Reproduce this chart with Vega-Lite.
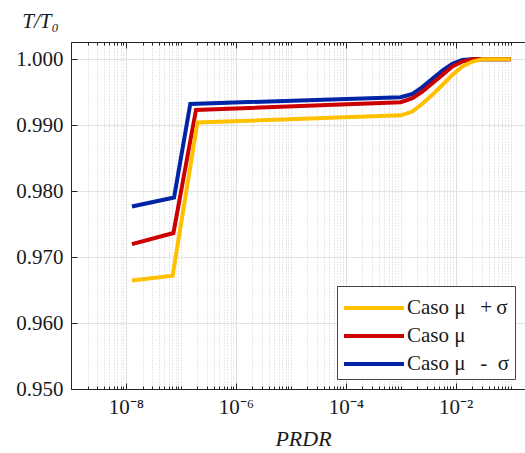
{
  "$schema": "https://vega.github.io/schema/vega-lite/v6.json",
  "width": 455,
  "height": 347,
  "autosize": {"type": "none"},
  "padding": {"left": 71, "top": 42, "right": 0, "bottom": 64},
  "background": "white",
  "config": {"view": {"stroke": null}, "font": "Liberation Serif, serif", "axis": {"labelFont": "Liberation Serif, serif", "titleFont": "Liberation Serif, serif"}, "legend": {"labelFont": "Liberation Serif, serif"}},
  "data": {"values": [
    {"x": 1.285e-8, "y": 0.97767, "s": "Caso μ - σ"},
    {"x": 7.5e-8, "y": 0.97903, "s": "Caso μ - σ"},
    {"x": 1.48e-7, "y": 0.99321, "s": "Caso μ - σ"},
    {"x": 1e-3, "y": 0.99424, "s": "Caso μ - σ"},
    {"x": 1.63e-3, "y": 0.99474, "s": "Caso μ - σ"},
    {"x": 2.47e-3, "y": 0.99576, "s": "Caso μ - σ"},
    {"x": 3.76e-3, "y": 0.99702, "s": "Caso μ - σ"},
    {"x": 5.72e-3, "y": 0.99827, "s": "Caso μ - σ"},
    {"x": 8.69e-3, "y": 0.99929, "s": "Caso μ - σ"},
    {"x": 1.32e-2, "y": 0.99989, "s": "Caso μ - σ"},
    {"x": 2.01e-2, "y": 1.0, "s": "Caso μ - σ"},
    {"x": 3.06e-2, "y": 1.0, "s": "Caso μ - σ"},
    {"x": 0.1, "y": 1.0, "s": "Caso μ - σ"},
    {"x": 1.285e-8, "y": 0.97197, "s": "Caso μ"},
    {"x": 7.3e-8, "y": 0.97364, "s": "Caso μ"},
    {"x": 1.88e-7, "y": 0.9923, "s": "Caso μ"},
    {"x": 1e-3, "y": 0.99348, "s": "Caso μ"},
    {"x": 1.63e-3, "y": 0.99409, "s": "Caso μ"},
    {"x": 2.47e-3, "y": 0.99509, "s": "Caso μ"},
    {"x": 3.76e-3, "y": 0.99636, "s": "Caso μ"},
    {"x": 5.72e-3, "y": 0.99762, "s": "Caso μ"},
    {"x": 8.69e-3, "y": 0.99888, "s": "Caso μ"},
    {"x": 1.32e-2, "y": 0.99964, "s": "Caso μ"},
    {"x": 2.01e-2, "y": 1.0, "s": "Caso μ"},
    {"x": 3.06e-2, "y": 1.0, "s": "Caso μ"},
    {"x": 0.1, "y": 1.0, "s": "Caso μ"},
    {"x": 1.285e-8, "y": 0.96645, "s": "Caso μ +σ"},
    {"x": 7.06e-8, "y": 0.96717, "s": "Caso μ +σ"},
    {"x": 2.0e-7, "y": 0.99039, "s": "Caso μ +σ"},
    {"x": 1e-3, "y": 0.99148, "s": "Caso μ +σ"},
    {"x": 1.63e-3, "y": 0.99206, "s": "Caso μ +σ"},
    {"x": 2.47e-3, "y": 0.99323, "s": "Caso μ +σ"},
    {"x": 3.76e-3, "y": 0.99459, "s": "Caso μ +σ"},
    {"x": 5.72e-3, "y": 0.99608, "s": "Caso μ +σ"},
    {"x": 8.69e-3, "y": 0.99762, "s": "Caso μ +σ"},
    {"x": 1.32e-2, "y": 0.99888, "s": "Caso μ +σ"},
    {"x": 2.01e-2, "y": 0.99964, "s": "Caso μ +σ"},
    {"x": 3.06e-2, "y": 1.0, "s": "Caso μ +σ"},
    {"x": 0.1, "y": 1.0, "s": "Caso μ +σ"}
  ]},
  "layer": [
    {
      "mark": {"type": "line", "opacity": 0},
      "encoding": {
        "x": {
          "field": "x", "type": "quantitative",
          "scale": {"type": "log", "domain": [1e-9, 0.19]},
          "axis": {
            "orient": "top",
            "values": [1e-9,2e-9,3e-9,4e-9,5e-9,6e-9,7e-9,8e-9,9e-9,1e-8,2e-8,3e-8,4e-8,5e-8,6e-8,7e-8,8e-8,9e-8,1e-7,2e-7,3e-7,4e-7,5e-7,6e-7,7e-7,8e-7,9e-7,1e-6,2e-6,3e-6,4e-6,5e-6,6e-6,7e-6,8e-6,9e-6,1e-5,2e-5,3e-5,4e-5,5e-5,6e-5,7e-5,8e-5,9e-5,1e-4,2e-4,3e-4,4e-4,5e-4,6e-4,7e-4,8e-4,9e-4,1e-3,2e-3,3e-3,4e-3,5e-3,6e-3,7e-3,8e-3,9e-3,1e-2,2e-2,3e-2,4e-2,5e-2,6e-2,7e-2,8e-2,9e-2,1e-1],
            "labels": false,
            "grid": false,
            "tickColor": "#262626",
            "tickSize": {"condition": {"test": "abs(log(datum.value)/LN10 - round(log(datum.value)/LN10)) < 0.001 && round(log(datum.value)/LN10) % 2 == 0", "value": -6}, "value": -3},
            "domainColor": "#262626",
            "title": null
          }
        },
        "y": {
          "field": "y", "type": "quantitative",
          "scale": {"domain": [0.95, 1.0026], "zero": false, "nice": false},
          "axis": {
            "values": [0.95, 0.96, 0.97, 0.98, 0.99, 1.0],
            "format": ".3f",
            "labelFont": "Liberation Serif, serif",
            "labelFontSize": 21,
            "labelColor": "#1a1a1a",
            "labelPadding": 14,
            "tickSize": -6,
            "tickColor": "#262626",
            "domainColor": "#262626",
            "grid": true,
            "gridColor": "#e2e2e2",
            "title": "T/T₀",
            "titleFont": "Liberation Serif, serif",
            "titleFontStyle": "italic",
            "titleFontWeight": "normal",
            "titleFontSize": 21,
            "titleColor": "#1a1a1a",
            "titleAngle": 0,
            "titleX": -31,
            "titleY": -15,
            "titleAlign": "center",
            "titleBaseline": "alphabetic"
          }
        }
      }
    },
    {
      "mark": {"type": "line", "strokeWidth": 4, "clip": true},
      "encoding": {
        "x": {
          "field": "x", "type": "quantitative",
          "scale": {"type": "log", "domain": [1e-9, 0.19]},
          "axis": {
            "orient": "bottom",
            "values": [1e-9,2e-9,3e-9,4e-9,5e-9,6e-9,7e-9,8e-9,9e-9,1e-8,2e-8,3e-8,4e-8,5e-8,6e-8,7e-8,8e-8,9e-8,1e-7,2e-7,3e-7,4e-7,5e-7,6e-7,7e-7,8e-7,9e-7,1e-6,2e-6,3e-6,4e-6,5e-6,6e-6,7e-6,8e-6,9e-6,1e-5,2e-5,3e-5,4e-5,5e-5,6e-5,7e-5,8e-5,9e-5,1e-4,2e-4,3e-4,4e-4,5e-4,6e-4,7e-4,8e-4,9e-4,1e-3,2e-3,3e-3,4e-3,5e-3,6e-3,7e-3,8e-3,9e-3,1e-2,2e-2,3e-2,4e-2,5e-2,6e-2,7e-2,8e-2,9e-2,1e-1],
            "labelExpr": "(abs(log(datum.value)/LN10 - round(log(datum.value)/LN10)) < 0.001 && round(log(datum.value)/LN10) % 2 == 0) ? '10⁻' + substring('⁰¹²³⁴⁵⁶⁷⁸⁹', -round(log(datum.value)/LN10), -round(log(datum.value)/LN10) + 1) : ''",
            "labelOverlap": false,
            "labelFlush": false,
            "labelBound": false,
            "labelFont": "Liberation Serif, serif",
            "labelFontSize": 21,
            "labelColor": "#1a1a1a",
            "labelPadding": 13,
            "tickColor": "#262626",
            "tickSize": {"condition": {"test": "abs(log(datum.value)/LN10 - round(log(datum.value)/LN10)) < 0.001 && round(log(datum.value)/LN10) % 2 == 0", "value": -6}, "value": -3},
            "domainColor": "#262626",
            "grid": true,
            "gridColor": {"condition": {"test": "abs(log(datum.value)/LN10 - round(log(datum.value)/LN10)) < 0.001 && round(log(datum.value)/LN10) % 2 == 0", "value": "#dedede"}, "value": "#cfcfcf"},
            "gridDash": {"condition": {"test": "abs(log(datum.value)/LN10 - round(log(datum.value)/LN10)) < 0.001 && round(log(datum.value)/LN10) % 2 == 0", "value": []}, "value": [1, 2]},
            "title": "PRDR",
            "titleFont": "Liberation Serif, serif",
            "titleFontStyle": "italic",
            "titleFontWeight": "normal",
            "titleFontSize": 22,
            "titleColor": "#1a1a1a",
            "titleX": 232,
            "titleY": 56,
            "titleAlign": "center",
            "titleBaseline": "alphabetic"
          }
        },
        "y": {
          "field": "y", "type": "quantitative",
          "scale": {"domain": [0.95, 1.0026], "zero": false, "nice": false},
          "axis": {
            "values": [0.95, 0.96, 0.97, 0.98, 0.99, 1.0],
            "format": ".3f",
            "labelFont": "Liberation Serif, serif",
            "labelFontSize": 21,
            "labelColor": "#1a1a1a",
            "labelPadding": 14,
            "tickSize": -6,
            "tickColor": "#262626",
            "domainColor": "#262626",
            "grid": true,
            "gridColor": "#e2e2e2",
            "title": "T/T₀",
            "titleFont": "Liberation Serif, serif",
            "titleFontStyle": "italic",
            "titleFontWeight": "normal",
            "titleFontSize": 21,
            "titleColor": "#1a1a1a",
            "titleAngle": 0,
            "titleX": -31,
            "titleY": -15,
            "titleAlign": "center",
            "titleBaseline": "alphabetic"
          }
        },
        "color": {
          "field": "s", "type": "nominal",
          "scale": {"domain": ["Caso μ +σ", "Caso μ", "Caso μ - σ"], "range": ["#FFC000", "#CC0000", "#0024A6"]},
          "legend": {
            "orient": "none",
            "legendX": 266,
            "legendY": 244,
            "title": null,
            "symbolType": "M-2,0H2",
            "symbolSize": 900,
            "symbolStrokeWidth": 4,
            "symbolOffset": 15,
            "labelFontSize": 21,
            "labelFont": "Liberation Serif, serif",
            "labelColor": "#1a1a1a",
            "labelOffset": 16,
            "labelExpr": "datum.label == 'Caso μ +σ' ? 'Caso μ\u2002\u2009+\u2009σ' : datum.label == 'Caso μ - σ' ? 'Caso μ\u2002\u2009-\u2002σ' : datum.label",
            "padding": 5,
            "fillColor": "white",
            "strokeColor": "#444444",
            "rowPadding": 1
          }
        }
      }
    }
  ],
  "resolve": {"axis": {"x": "independent"}}
}
